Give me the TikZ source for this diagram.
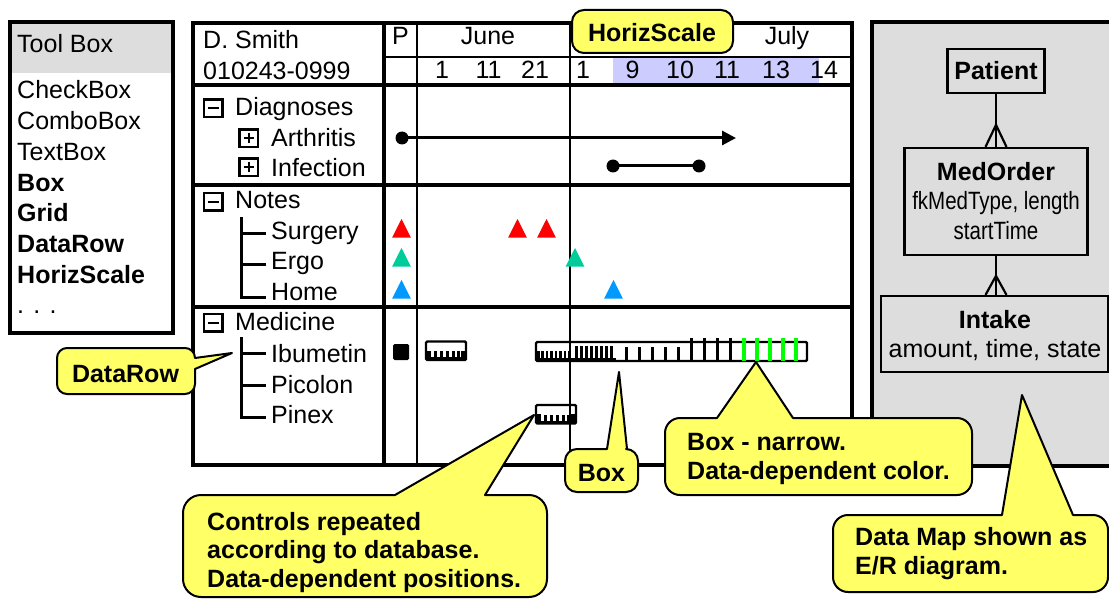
\documentclass[tikz,border=0pt]{standalone}
\usepackage{fontspec}
\setmainfont{Liberation Sans}
\usetikzlibrary{calc,arrows.meta}

\definecolor{calloutyellow}{HTML}{FFFF66}
\definecolor{panelgray}{HTML}{DDDDDD}
\definecolor{scaleblue}{HTML}{CCCCFF}
\definecolor{notered}{HTML}{FF0000}
\definecolor{notegreen}{HTML}{00CC99}
\definecolor{noteblue}{HTML}{0099FF}
\definecolor{dosegreen}{HTML}{00FF00}

\tikzset{
  gridheavy/.style={line width=3.4},
  gridlight/.style={line width=1.6},
  txt/.style={anchor=base west, inner sep=0pt},
  ctxt/.style={anchor=base, inner sep=0pt},
  balloon/.style={draw=black, fill=calloutyellow, line width=2, line join=round},
  erbox/.style={draw=black, line width=2.2, inner sep=0pt},
  erline/.style={line width=2.2},
  iconline/.style={line width=2.4},
  treeline/.style={line width=3},
}

% rounded callout with its pointer on the top edge
% #1 x1, #2 y1, #3 x2, #4 y2, #5 radius, #6/#7 pointer base, #8/#9 pointer tip
\newcommand\balloontop[9]{%
  \draw[balloon] (#1+#5,#2) -- (#6,#2) -- (#8,#9) -- (#7,#2) -- (#3-#5,#2)
    .. controls (#3-0.45*#5,#2) and (#3,#2+0.45*#5) .. (#3,#2+#5)
    -- (#3,#4-#5)
    .. controls (#3,#4-0.45*#5) and (#3-0.45*#5,#4) .. (#3-#5,#4)
    -- (#1+#5,#4)
    .. controls (#1+0.45*#5,#4) and (#1,#4-0.45*#5) .. (#1,#4-#5)
    -- (#1,#2+#5)
    .. controls (#1,#2+0.45*#5) and (#1+0.45*#5,#2) .. (#1+#5,#2) -- cycle;}

% small dose control: 40 x 18.5 box with ticks in its lower half
\newcommand\dosebox[2]{%
  \draw[line width=2.4, rounded corners=1.2] (#1,#2) rectangle ++(40,18.5);
  \fill (#1,#2+9) rectangle ++(5,9.5);
  \fill (#1+35,#2+9) rectangle ++(5,9.5);
  \foreach \p in {7.5,13.5,19.5,25.5,31}{\fill (#1+\p,#2+9.5) rectangle ++(3,9);}
  \fill (#1,#2+15.5) rectangle ++(40,3);}

% tree icons
\newcommand\minusicon[2]{%
  \draw[iconline] (#1,#2) rectangle ++(18.5,17.5);
  \draw[iconline] (#1+4,#2+8.75) -- (#1+14.5,#2+8.75);}
\newcommand\plusicon[2]{%
  \draw[iconline] (#1,#2) rectangle ++(18.5,17.5);
  \draw[iconline] (#1+4,#2+8.75) -- (#1+14.5,#2+8.75);
  \draw[iconline] (#1+9.25,#2+3.5) -- (#1+9.25,#2+14);}

% note triangle: colour, centre x, base y
\newcommand\notemark[3]{\fill[#1] (#2-9.3,#3) -- (#2+9.3,#3) -- (#2,#3-18.5) -- cycle;}

\begin{document}
\begin{tikzpicture}[x=1pt,y=-1pt,font=\fontsize{25}{30}\selectfont]
\useasboundingbox (0,0) rectangle (1109,599);

% ---------------- tool box ----------------
\fill[panelgray] (10,22) rectangle (173,73);
\draw[gridheavy] (10,22) rectangle (173,333);
\node[txt] (tbhead)  at (17,53)    {Tool Box};
\node[txt] (tbcheck) at (17,99)    {CheckBox};
\node[txt] (tbcombo) at (17,130)   {ComboBox};
\node[txt] (tbtext)  at (17,160.5) {TextBox};
\node[txt] (tbbox)   at (17,191)   {\bfseries Box};
\node[txt] (tbgrid)  at (17,221.5) {\bfseries Grid};
\node[txt] (tbrow)   at (17,252)   {\bfseries DataRow};
\node[txt] (tbscale) at (17,283)   {\bfseries HorizScale};
\node[txt] (tbmore)  at (17,313.5) {. . .};

% ---------------- data map panel ----------------
\fill[panelgray] (872,22) rectangle (1120,466);
\draw[gridheavy] (1120,22) -- (872,22) -- (872,466) -- (1120,466);

\node[erbox, minimum width=97, minimum height=44] (patient) at (996,71) {};
\node[erbox, minimum width=183, minimum height=107] (medorder) at (996,201.5) {};
\node[erbox, minimum width=227, minimum height=76] (intake) at (994.5,334) {};

\node[ctxt] (patientname) at (996,80) {\bfseries Patient};
\node[ctxt] (medordername) at (996,181) {\bfseries MedOrder};
\node[ctxt] (medorderattr1) at (996,210) {\scalebox{0.82}[1]{fkMedType, length}};
\node[ctxt] (medorderattr2) at (996,240) {\scalebox{0.82}[1]{startTime}};
\node[ctxt] (intakename) at (995,328) {\bfseries Intake};
\node[ctxt] (intakeattr) at (995,357) {amount, time, state};

\draw[erline] (patient.south) -- (medorder.north);
\draw[erline] ($(medorder.north)+(-10.5,0)$) -- ($(medorder.north)+(0,-22)$) -- ($(medorder.north)+(10.5,0)$);
\draw[erline] (medorder.south) -- (medorder.south |- intake.north);
\draw[erline] ($(medorder.south |- intake.north)+(-10.5,0)$) -- ($(medorder.south |- intake.north)+(0,-19)$) -- ($(medorder.south |- intake.north)+(10.5,0)$);

% ---------------- grid ----------------
\fill[scaleblue] (613,57.5) rectangle (819,84);

\draw[gridlight] (417,23) -- (417,465);
\draw[gridlight] (570,23) -- (570,465);
\draw[gridlight] (384,57) -- (852,57);
\draw[gridheavy] (384,23) -- (384,465);
\draw[gridheavy] (193,85) -- (852,85);
\draw[gridheavy] (193,185) -- (852,185);
\draw[gridheavy] (193,307) -- (852,307);
\draw[gridheavy] (193,23) rectangle (852,465);

% header
\node[txt] (pname) at (203,49) {D. Smith};
\node[txt] (pid)   at (203,80) {010243-0999};
\node[ctxt] (pcol) at (400.5,45) {P};
\node[ctxt] (june) at (488,45) {June};
\node[ctxt] (july) at (787,45) {July};
\node[ctxt] (d1)  at (442,79) {1};
\node[ctxt] (d2)  at (488.5,79) {11};
\node[ctxt] (d3)  at (535,79) {21};
\node[ctxt] (d4)  at (583,79) {1};
\node[ctxt] (d5)  at (632.5,79) {9};
\node[ctxt] (d6)  at (680,79) {10};
\node[ctxt] (d7)  at (727,79) {11};
\node[ctxt] (d8)  at (776,79) {13};
\node[ctxt] (d9)  at (824,79) {14};

% diagnoses
\minusicon{204}{99.5}
\plusicon{239.5}{129.5}
\plusicon{239.5}{158.5}
\node[txt] (diag)  at (235,116) {Diagnoses};
\node[txt] (arth)  at (271,147) {Arthritis};
\node[txt] (infec) at (271,177) {Infection};

\coordinate (arthstart) at (402,138);
\coordinate (arthend) at (736,138);
\draw[line width=3, -{Triangle[length=14,width=14]}] (arthstart) -- (arthend);
\fill (arthstart) circle[radius=6.5];
\coordinate (infstart) at (613,166);
\coordinate (infend) at (699,166);
\draw[line width=3] (infstart) -- (infend);
\fill (infstart) circle[radius=6.5];
\fill (infend) circle[radius=6.5];

% notes
\minusicon{204}{193}
\node[txt] (notes)   at (235,208) {Notes};
\node[txt] (surgery) at (271,239) {Surgery};
\node[txt] (ergo)    at (271,269) {Ergo};
\node[txt] (home)    at (271,300) {Home};
\draw[treeline] (266,233) -- (241,233);
\draw[treeline] (266,264) -- (241,264);
\draw[treeline] (241,217) -- (241,297) -- (266,297);

\notemark{notered}{401.5}{237.5}
\notemark{notered}{517.5}{237.5}
\notemark{notered}{546.5}{237.5}
\notemark{notegreen}{401.5}{266.5}
\notemark{notegreen}{575}{266.5}
\notemark{noteblue}{401.5}{298.5}
\notemark{noteblue}{613.5}{298.5}

% medicine
\minusicon{204}{314}
\node[txt] (medicine) at (235,330) {Medicine};
\node[txt] (ibumetin) at (271,362) {Ibumetin};
\node[txt] (picolon)  at (271,393) {Picolon};
\node[txt] (pinex)    at (271,423) {Pinex};
\draw[treeline] (266,353) -- (241,353);
\draw[treeline] (266,385) -- (241,385);
\draw[treeline] (241,337) -- (241,417) -- (266,417);

\fill[rounded corners=1.5] (393,344) rectangle (409,360);
\dosebox{426}{341.5}
\dosebox{536}{405}

\draw[line width=2.4, rounded corners=1.2] (536,342) rectangle (807,361);
\fill (536,351) rectangle ++(4,10);
\fill (536,357.5) rectangle ++(80,3.5);
\foreach \p in {541,545.5,...,568}{\fill (\p,351) rectangle ++(2.6,10);}
\foreach \p in {575,580,...,610}{\fill (\p,346) rectangle ++(2.8,15);}
\foreach \p in {625,638,...,677}{\fill (\p,347) rectangle ++(3,14);}
\foreach \p in {690,703,716,729}{\fill (\p,337.5) rectangle ++(3.4,23.5);}
\foreach \p in {742,755,768,781,794}{\fill[dosegreen] (\p,337.5) rectangle ++(3.6,23.5);}

% ---------------- callouts ----------------
\node[balloon, rounded corners=12, minimum width=161, minimum height=43] (hsballoon) at (652.5,31.5) {};
\node[ctxt] (hstext) at (652,42) {\bfseries HorizScale};

\draw[balloon] (67,348) -- (185,348) .. controls (190.5,348) and (195,352.5) .. (195,358)
  -- (232,353) -- (195,369) -- (195,384)
  .. controls (195,389.5) and (190.5,394) .. (185,394) -- (67,394)
  .. controls (61.5,394) and (57,389.5) .. (57,384) -- (57,358)
  .. controls (57,352.5) and (61.5,348) .. (67,348) -- cycle;
\node[ctxt] (drtext) at (125.5,382) {\bfseries DataRow};

\balloontop{565}{449}{638}{492}{12}{607}{627}{619}{372}
\node[ctxt] (boxtext) at (601.5,481) {\bfseries Box};

\balloontop{665}{418}{972}{495}{15}{717}{793}{756}{362}
\node[txt] (narrow1) at (687,450) {\bfseries Box - narrow.};
\node[txt] (narrow2) at (687,479) {\bfseries Data-dependent color.};

\balloontop{833}{515}{1108}{592}{15}{1002}{1073}{1022}{395}
\node[txt] (map1) at (855,545) {\bfseries Data Map shown as};
\node[txt] (map2) at (855,574) {\bfseries E/R diagram.};

\balloontop{183}{495}{547}{597}{18}{395}{485}{534}{415}
\node[txt] (ctrl1) at (207,530) {\bfseries Controls repeated};
\node[txt] (ctrl2) at (207,558.5) {\bfseries according to database.};
\node[txt] (ctrl3) at (207,587) {\bfseries Data-dependent positions.};

\end{tikzpicture}
\end{document}
